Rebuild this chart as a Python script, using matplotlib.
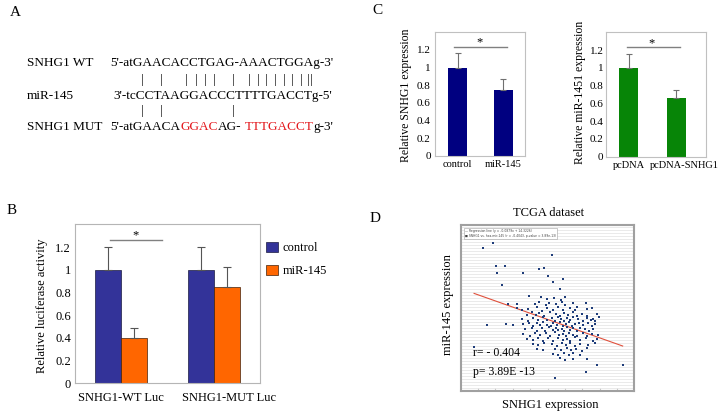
import numpy as np
import matplotlib
matplotlib.use("Agg")
import matplotlib.pyplot as plt
from matplotlib.patches import Patch

plt.rcParams["font.family"] = ["Liberation Serif", "DejaVu Serif"]
plt.rcParams["font.size"] = 9

# Panel A: sequences
wt_seq = "5'-atGAACACCTGAG-AAACTGGAg-3'"
mir_seq = "3'-tcCCTAAGGACCCTTTTGACCTg-5'"
mut_parts = ["5'-atGAACA", "GGAC", "AG-", "TTTGACCT", "g-3'"]
mut_colors = ["black", "#e3161b", "black", "#e3161b", "black"]

# Panel B: luciferase
luc_groups = ["SNHG1-WT Luc", "SNHG1-MUT Luc"]
luc_control = [1.0, 1.0]
luc_control_err = [0.2, 0.2]
luc_mir = [0.40, 0.85]
luc_mir_err = [0.085, 0.17]

# Panel C
snhg1_labels = ["control", "miR-145"]
snhg1_vals = [1.0, 0.75]
snhg1_err = [0.16, 0.115]
mir_labels = ["pcDNA", "pcDNA-SNHG1"]
mir_vals = [1.0, 0.655]
mir_err = [0.16, 0.10]

yticks = [0, 0.2, 0.4, 0.6, 0.8, 1.0, 1.2]
ytick_labels = ["0", "0.2", "0.4", "0.6", "0.8", "1", "1.2"]

# Panel D: TCGA scatter (arbitrary expression units)
snhg1_x = [13.1, 18.8, 52.8, 20.2, 25.7, 20.7, 45.1, 48.2, 35.7, 50.1, 58.9, 24.0, 53.0, 57.2,
           39.5, 27.4, 32.4, 32.2, 15.2, 26.1, 29.9, 7.5, 54.3, 72.0, 78.5, 93.3, 72.6,
           46.4, 49.5, 53.9, 57.8, 60.3,
           42.6, 45.3, 49.1, 51.1, 54.9, 58.2, 60.3, 64.9, 72.2,
           35.1, 39.0, 43.8, 46.6, 49.9, 53.4, 56.2, 58.7, 63.0, 65.8, 67.2, 72.6, 75.4,
           38.0, 40.9, 43.4, 45.3, 48.0, 51.4, 54.9, 57.2, 59.5, 62.0, 64.5, 67.2, 69.7, 72.9, 78.3, 79.8,
           35.1, 39.0, 41.8, 44.7, 47.2, 49.5, 52.4, 54.3, 56.2, 57.6, 59.5, 61.4, 63.0, 64.9, 67.8,
           70.2, 72.6, 74.9, 76.4, 77.4,
           36.1, 39.5, 41.8, 43.8, 45.7, 47.6, 49.9, 51.8, 53.4, 55.3, 57.2, 58.7, 60.7, 62.6, 63.9,
           65.8, 68.3, 70.6, 73.5, 75.4, 77.4,
           37.0, 40.9, 43.8, 46.6, 48.6, 51.1, 53.0, 54.9, 56.2, 58.2, 59.5, 61.4, 63.0, 64.9, 67.2,
           68.7, 71.6, 74.1, 76.4,
           35.7, 39.9, 42.8, 45.7, 49.1, 51.4, 54.3, 56.8, 58.7, 60.7, 62.6, 64.9, 67.2, 70.2, 72.6,
           75.4, 79.3,
           38.0, 41.8, 44.7, 47.6, 50.5, 53.4, 56.2, 58.7, 61.0, 63.0, 65.8, 68.7, 72.2, 76.0, 78.3,
           41.5, 44.7, 48.0, 52.4, 55.3, 58.2, 60.7, 63.0, 65.8, 68.7, 73.5, 77.4,
           43.8, 47.6, 54.3, 57.6, 61.0, 63.3, 66.4, 69.7, 72.6,
           53.4, 56.2, 59.5, 62.6, 64.9, 68.7,
           57.2, 60.1, 64.9]
mir145_y = [86.3, 89.4, 81.9, 75.3, 75.3, 70.9, 73.3, 73.9, 71.3, 69.3, 67.3, 64.1, 65.9, 61.2,
            57.2, 52.4, 52.4, 49.8, 39.6, 40.2, 39.6, 26.7, 7.6, 11.4, 15.9, 15.9, 19.1,
            56.8, 55.4, 56.0, 55.0, 56.6,
            52.5, 53.6, 51.8, 53.0, 52.2, 53.4, 51.6, 52.8, 53.0,
            48.6, 49.4, 50.4, 48.2, 49.8, 48.8, 50.6, 49.0, 50.2, 48.6, 50.8, 49.2, 50.0,
            46.0, 47.4, 45.6, 46.8, 45.2, 47.6, 46.4, 45.0, 47.0, 45.8, 47.8, 45.4, 46.6, 45.2, 46.2, 44.8,
            43.6, 42.4, 44.2, 43.0, 44.6, 42.6, 43.8, 42.2, 44.4, 43.2, 42.0, 44.0, 42.8, 44.8, 43.4,
            42.2, 44.0, 42.6, 43.6, 42.0,
            40.4, 41.2, 39.4, 40.8, 39.6, 41.6, 40.0, 39.2, 41.0, 39.8, 41.4, 39.0, 40.6, 41.8, 39.4,
            40.2, 41.2, 39.6, 40.8, 39.2, 40.4,
            37.4, 38.2, 36.4, 37.8, 36.2, 38.6, 37.0, 38.0, 36.6, 37.6, 36.0, 38.4, 36.8, 37.8, 36.4,
            38.2, 37.2, 36.0, 37.6,
            34.2, 33.4, 35.0, 33.8, 34.8, 33.2, 35.4, 33.6, 34.6, 33.0, 35.2, 34.0, 33.4, 34.8, 33.2,
            34.4, 33.6,
            31.4, 30.6, 32.2, 30.4, 31.8, 30.2, 32.0, 30.8, 31.6, 30.0, 32.4, 30.6, 31.8, 30.4, 31.2,
            28.4, 27.6, 29.0, 28.2, 27.4, 29.2, 27.8, 28.8, 27.2, 28.6, 27.6, 28.8,
            25.6, 24.8, 25.2, 24.4, 26.0, 24.6, 25.4, 24.2, 25.8,
            22.4, 21.6, 23.0, 21.8, 22.8, 21.4,
            19.6, 18.8, 19.4]
reg_x = [7.7, 93.3]
reg_y = [58.8, 27.1]

W, H = 722, 413
fig = plt.figure(figsize=(W / 100, H / 100), dpi=100)


def box(l, t, r, b):
    return [l / W, 1 - b / H, (r - l) / W, (b - t) / H]


# overlay in pixel units for free text
bg = fig.add_axes([0, 0, 1, 1], zorder=-1)
bg.set_xlim(0, W)
bg.set_ylim(H, 0)
bg.axis("off")

# ---------------- A
fs_a = 9.5
bg.text(10, 13, "A", fontsize=11, va="center")
bg.text(27, 63, "SNHG1 WT", fontsize=fs_a, va="center")
bg.text(110, 63, wt_seq, fontsize=fs_a, va="center")
bg.text(27, 96, "miR-145", fontsize=fs_a, va="center")
bg.text(113, 96, mir_seq, fontsize=fs_a, va="center")
bg.text(27, 127, "SNHG1 MUT", fontsize=fs_a, va="center")

for xp in [142.7, 161.3, 186.7, 196, 205.3, 214, 233.3, 249.3, 258.3, 266.7,
           275.3, 284, 292.7, 301.3, 308.7, 311.3]:
    bg.text(xp, 80, "|", fontsize=fs_a, ha="center", va="center")
for xp in [142.7, 161.3, 233.3]:
    bg.text(xp, 111, "|", fontsize=fs_a, ha="center", va="center")

prev = bg.text(110, 127, mut_parts[0], color=mut_colors[0], fontsize=fs_a, va="center")
for i in range(1, len(mut_parts)):
    gap = 2.4 if mut_parts[i] == "TTTGACCT" else 0
    prev = bg.annotate(mut_parts[i], xy=(1, 0), xycoords=prev, xytext=(gap, 0),
                       textcoords="offset points", va="bottom", ha="left",
                       color=mut_colors[i], fontsize=fs_a)

# ---------------- B
bg.text(7, 210, "B", fontsize=11, va="center")
axb = fig.add_axes(box(75, 224.3, 260, 383.3))
x = np.arange(len(luc_groups))
w = 0.28
ekw = dict(ecolor="#555555", elinewidth=0.8, capsize=3, capthick=0.8)
axb.bar(x - w / 2, luc_control, w, color="#333399", edgecolor="#1a1a40", linewidth=0.5,
        yerr=[np.zeros(len(x)), luc_control_err], error_kw=ekw, label="control")
axb.bar(x + w / 2, luc_mir, w, color="#ff6600", edgecolor="#40200a", linewidth=0.5,
        yerr=[np.zeros(len(x)), luc_mir_err], error_kw=ekw, label="miR-145")
axb.plot([-0.126, 0.439], [1.265, 1.265], color="#808080", lw=1)
axb.text(0.155, 1.30, "*", ha="center", va="center", fontsize=9)
axb.set_xlim(-0.5, 1.5)
axb.set_ylim(0, 1.4)
axb.set_yticks(yticks)
axb.set_yticklabels(ytick_labels)
axb.set_xticks([0, 1.17])
axb.set_xticklabels(luc_groups)
axb.tick_params(axis="y", length=0, pad=3)
axb.tick_params(axis="x", length=0, pad=6)
for s in axb.spines.values():
    s.set_color("#b5b5b5")
    s.set_linewidth(0.8)
bg.text(42, 306, "Relative luciferase activity", rotation=90, ha="center", va="center")
axb.legend(handles=[Patch(facecolor="#333399", edgecolor="#1a1a40", lw=0.5),
                    Patch(facecolor="#ff6600", edgecolor="#40200a", lw=0.5)],
           labels=["control", "miR-145"], loc="upper left", bbox_to_anchor=(1.035, 0.89),
           frameon=False, borderpad=0, borderaxespad=0, handlelength=0.95,
           handleheight=0.9, handletextpad=0.35, labelspacing=0.85)

# ---------------- C
bg.text(372, 10, "C", fontsize=11, va="center")


def small_bar(ax, labels, vals, errs, color, xlim, line_x, line_y, star_x, ypad, xticks):
    xx = np.arange(len(labels))
    ax.bar(xx, vals, 0.4, color=color,
           yerr=[np.zeros(len(xx)), errs],
           error_kw=dict(ecolor="#707070", elinewidth=0.8, capsize=2.5, capthick=0.8))
    ax.plot(line_x, [line_y, line_y], color="#808080", lw=1)
    ax.text(star_x, line_y + 0.045, "*", ha="center", va="center", fontsize=9)
    ax.set_xlim(*xlim)
    ax.set_ylim(0, 1.4)
    ax.set_yticks(yticks)
    ax.set_yticklabels(ytick_labels)
    ax.set_xticks(xticks)
    ax.set_xticklabels(labels, fontsize=7.5)
    ax.tick_params(axis="y", length=0, pad=ypad, labelsize=8)
    ax.tick_params(axis="x", length=0, pad=3)
    for s in ax.spines.values():
        s.set_color("#c0c0c0")
        s.set_linewidth(0.8)


axc1 = fig.add_axes(box(435, 32.3, 525, 155.7))
small_bar(axc1, snhg1_labels, snhg1_vals, snhg1_err, "#000080", (-0.49, 1.47),
          [-0.069, 1.069], 1.238, 0.49, 3, [0, 1])
bg.text(406, 95, "Relative SNHG1 expression", rotation=90, ha="center", va="center", fontsize=8.5)

axc2 = fig.add_axes(box(605.7, 32.3, 706, 156.7))
small_bar(axc2, mir_labels, mir_vals, mir_err, "#078507", (-0.49, 1.63),
          [-0.03, 1.08], 1.234, 0.48, 1.5, [0, 1.18])
bg.text(580, 92, "Relative miR-1451 expression", rotation=90, ha="center", va="center", fontsize=8.5)

# ---------------- D
bg.text(370, 218, "D", fontsize=11, va="center")
bg.text(549, 213, "TCGA dataset", ha="center", va="center", fontsize=9)
axd = fig.add_axes(box(460.7, 225, 634.3, 391))
axd.set_xlim(0, 100)
axd.set_ylim(0, 100)
axd.set_yticks(np.arange(1.8, 100, 1.8))
axd.set_yticklabels([])
axd.set_xticks(np.arange(10, 100, 10))
axd.set_xticklabels([])
axd.tick_params(axis="y", length=0)
axd.tick_params(axis="x", length=2, direction="in", color="#c8c8c8")
axd.grid(axis="y", color="#e2e2e2", lw=0.5)
axd.set_axisbelow(True)
for s in axd.spines.values():
    s.set_color("#a0a0a0")
    s.set_linewidth(1.5)
axd.plot(reg_x, reg_y, color="#e0503c", lw=0.8, zorder=2)
axd.scatter(snhg1_x, mir145_y, s=3, marker="s", color="#1f3d7a", linewidths=0, zorder=3)
axd.text(0.025, 0.975,
         "\u2014 Regression line (y = -0.0879x + 14.3226)\n"
         "\u25a0 SNHG1 vs. hsa-mir-145 (r = -0.4043, p-value = 3.89e-13)",
         transform=axd.transAxes, fontsize=2.2, family="DejaVu Sans", va="top", ha="left",
         color="#404040", linespacing=1.3,
         bbox=dict(boxstyle="square,pad=0.4", facecolor="white", edgecolor="#a0a0a0", lw=0.4))
axd.text(0.069, 0.231, "r= - 0.404", transform=axd.transAxes, fontsize=8.5, va="center")
axd.text(0.069, 0.116, "p= 3.89E -13", transform=axd.transAxes, fontsize=8.5, va="center")
bg.text(448, 305, "miR-145 expression", rotation=90, ha="center", va="center", fontsize=9)
bg.text(550, 405, "SNHG1 expression", ha="center", va="center", fontsize=9)

fig.savefig("out.png", dpi=100)
